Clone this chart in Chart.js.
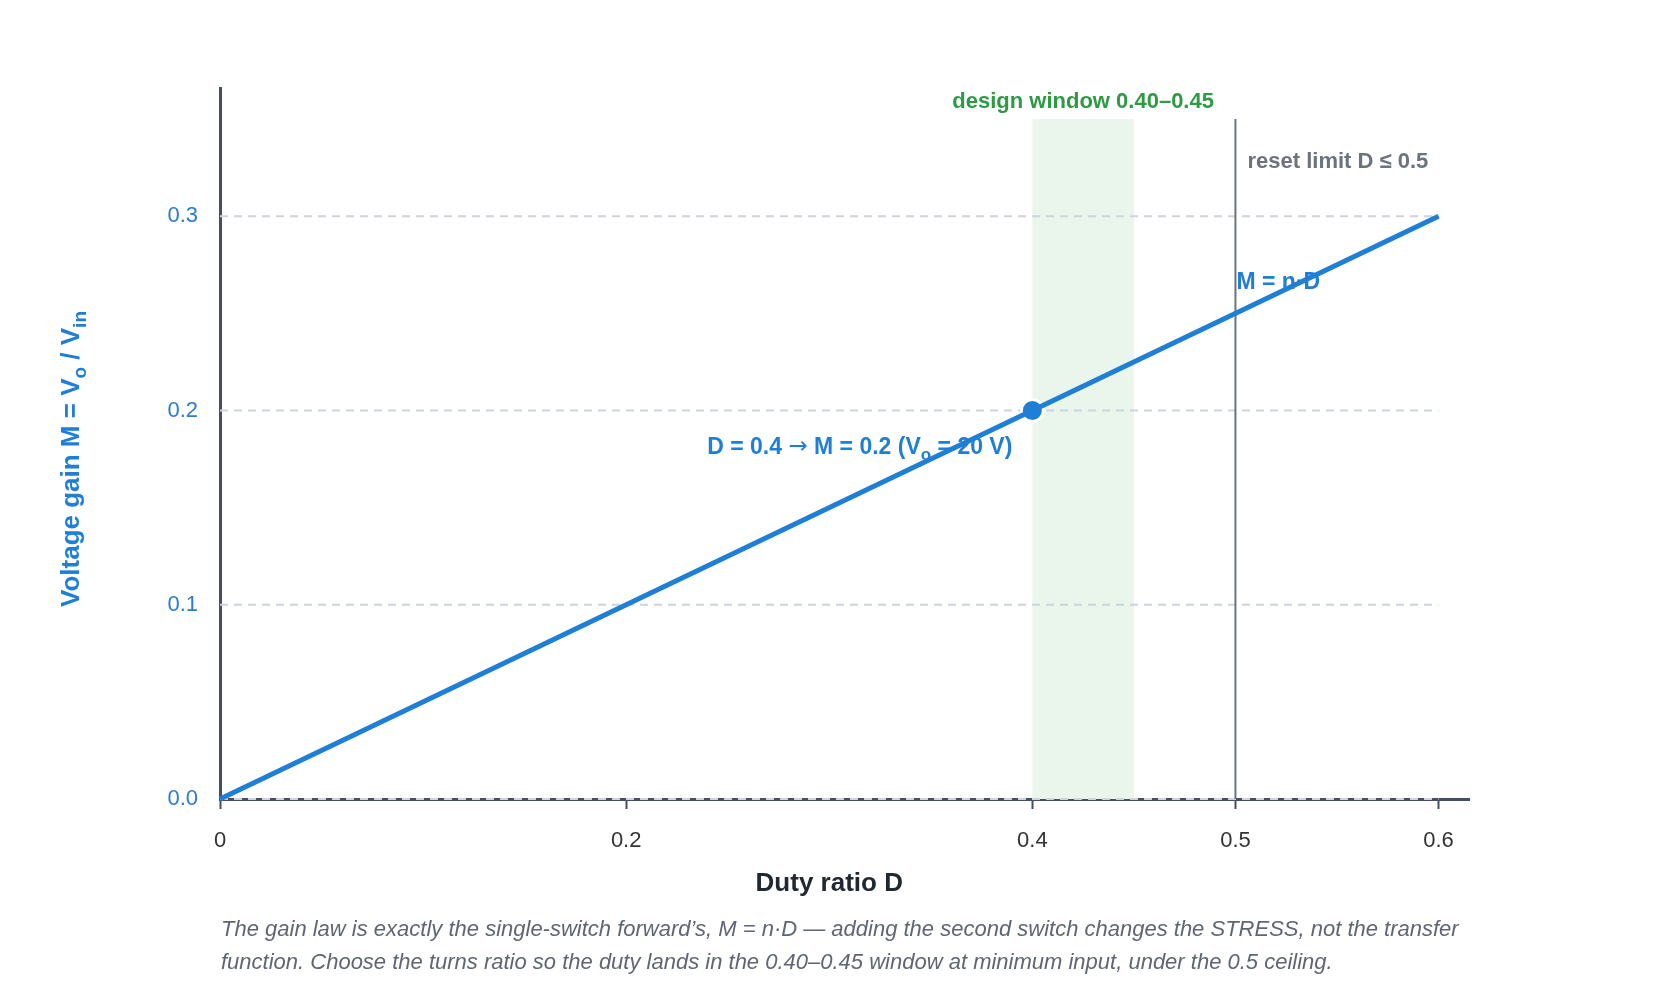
<!DOCTYPE html>
<html>
<head>
<meta charset="utf-8">
<script src="https://cdn.jsdelivr.net/npm/chart.js@4.4.1/dist/chart.umd.min.js"></script>
<style>
	body { margin: 0; background: #fff; font-family: "Liberation Sans", Arial, sans-serif; }
	#wrap { position: relative; width: 1680px; height: 1000px; }
	#caption {
		position: absolute; left: 221px; top: 912px;
		font-style: italic; font-size: 22px; line-height: 33px; color: #5f6673;
		white-space: nowrap;
	}
</style>
</head>
<body>
<div id="wrap">
	<canvas id="chartjs-canvas"></canvas>
	<div id="caption">The gain law is exactly the single-switch forward’s, M = n·D — adding the second switch changes the STRESS, not the transfer<br>function. Choose the turns ratio so the duty lands in the 0.40–0.45 window at minimum input, under the 0.5 ceiling.</div>
</div>
<script>
// gain law M = n*D, n = 0.5
const dutyValues = [0, 0.6];
const gainValues = [0, 0.3];
const markerDuty = [0.4];
const markerGain = [0.2];
const xTickValues = [0, 0.2, 0.4, 0.5, 0.6];
const xTickLabels = ['0', '0.2', '0.4', '0.5', '0.6'];
const yTickValues = [0, 0.1, 0.2, 0.3];
const yTickLabels = ['0.0', '0.1', '0.2', '0.3'];
const windowRange = [0.40, 0.45];
const windowTop = 0.35;
const resetLimit = 0.5;

const FONT = '"Liberation Sans", Arial, sans-serif';
const BLUE = '#1f7ed6';
const AXIS = '#464e63';

// draws text made of [text, isSubscript, fontOverride] parts
const drawRich = (ctx, parts, x, y, align, size, color) => {
	const subSize = Math.round(size * 0.72);
	const fontOf = ([t, sub, fam]) => fam ? `${size}px ${fam}` : `bold ${sub ? subSize : size}px ${FONT}`;
	const widths = parts.map(p => {
		ctx.font = fontOf(p);
		return ctx.measureText(p[0]).width;
	});
	const total = widths.reduce((a, b) => a + b, 0);
	let cx = align === 'center' ? x - total / 2 : align === 'right' ? x - total : x;
	ctx.fillStyle = color;
	ctx.textBaseline = 'middle';
	ctx.textAlign = 'left';
	parts.forEach((p, i) => {
		ctx.font = fontOf(p);
		ctx.fillText(p[0], cx, p[1] ? y + size * 0.35 : y);
		cx += widths[i];
	});
};

const decorations = {
	id: 'decorations',
	beforeDatasetsDraw: chart => {
		const {ctx, scales: {x, y}} = chart;
		ctx.save();
		// design window band
		ctx.fillStyle = '#eaf5ec';
		ctx.fillRect(x.getPixelForValue(windowRange[0]), y.getPixelForValue(windowTop),
			x.getPixelForValue(windowRange[1]) - x.getPixelForValue(windowRange[0]),
			y.getPixelForValue(0) - y.getPixelForValue(windowTop));
		// dashed grid, only across the plotted range
		ctx.strokeStyle = '#cdd4de';
		ctx.lineWidth = 2;
		ctx.setLineDash([8, 6]);
		yTickValues.forEach(v => {
			const py = y.getPixelForValue(v);
			ctx.beginPath();
			ctx.moveTo(x.getPixelForValue(0), py);
			ctx.lineTo(x.getPixelForValue(0.6), py);
			ctx.stroke();
		});
		ctx.setLineDash([]);
		// reset limit line
		ctx.strokeStyle = '#6b7280';
		ctx.lineWidth = 2;
		ctx.beginPath();
		ctx.moveTo(x.getPixelForValue(resetLimit), y.getPixelForValue(windowTop));
		ctx.lineTo(x.getPixelForValue(resetLimit), y.getPixelForValue(0));
		ctx.stroke();

		drawRich(ctx, [['design window 0.40–0.45']], x.getPixelForValue((windowRange[0] + windowRange[1]) / 2),
			y.getPixelForValue(windowTop) - 17, 'center', 22, '#2f9a44');
		drawRich(ctx, [['reset limit D ≤ 0.5']], x.getPixelForValue(resetLimit) + 12,
			y.getPixelForValue(windowTop) + 43, 'left', 22, '#6b7280');
		drawRich(ctx, [['M = n·D']], x.getPixelForValue(resetLimit) + 1,
			y.getPixelForValue(0.266), 'left', 23, BLUE);
		drawRich(ctx, [['D = 0.4 '], ['\u2192', false, '"DejaVu Sans"'], [' M = 0.2 (V'], ['o', true], [' = 20 V)']],
			x.getPixelForValue(markerDuty[0]) - 20, y.getPixelForValue(markerGain[0]) + 37, 'right', 23, BLUE);

		// axis titles
		drawRich(ctx, [['Duty ratio D']], x.getPixelForValue(0.3), 884, 'center', 26, '#222831');
		ctx.translate(72, 459);
		ctx.rotate(-Math.PI / 2);
		drawRich(ctx, [['Voltage gain M = V'], ['o', true], [' / V'], ['in', true]], 0, 0, 'center', 26, BLUE);
		ctx.restore();
	}
};

const config = {
	type: 'scatter',
	data: {
		datasets: [{
			label: 'M = n·D',
			data: dutyValues.map((d, i) => ({x: d, y: gainValues[i]})),
			showLine: true,
			borderColor: BLUE,
			borderWidth: 5,
			pointRadius: 0,
			clip: false
		}, {
			label: 'operating point',
			data: markerDuty.map((d, i) => ({x: d, y: markerGain[i]})),
			pointRadius: 11,
			pointBackgroundColor: BLUE,
			pointBorderColor: '#ffffff',
			pointBorderWidth: 3
		}]
	},
	options: {
		responsive: true,
		maintainAspectRatio: false,
		animation: false,
		layout: {padding: {top: 88, right: 211, bottom: 0, left: 0}},
		plugins: {legend: {display: false}, tooltip: {enabled: false}},
		scales: {
			x: {
				type: 'linear',
				min: 0,
				max: 0.615,
				afterBuildTicks: scale => { scale.ticks = xTickValues.map(v => ({value: v})); },
				afterFit: scale => { scale.height = 201; },
				grid: {drawOnChartArea: false, drawTicks: true, tickLength: 10, tickColor: AXIS, tickWidth: 2},
				border: {color: AXIS, width: 3},
				ticks: {
					padding: 19,
					color: '#333',
					font: {family: FONT, size: 22},
					callback: (v, i) => xTickLabels[i]
				}
			},
			y: {
				min: 0,
				max: 0.366,
				afterBuildTicks: scale => { scale.ticks = yTickValues.map(v => ({value: v})); },
				afterFit: scale => { scale.width = 220; },
				grid: {display: false},
				border: {color: AXIS, width: 3},
				ticks: {
					padding: 14,
					color: '#2b7cd0',
					font: {family: FONT, size: 22},
					callback: (v, i) => yTickLabels[i]
				}
			}
		}
	},
	plugins: [decorations]
};

new Chart(document.getElementById('chartjs-canvas'), config);
</script>
</body>
</html>
